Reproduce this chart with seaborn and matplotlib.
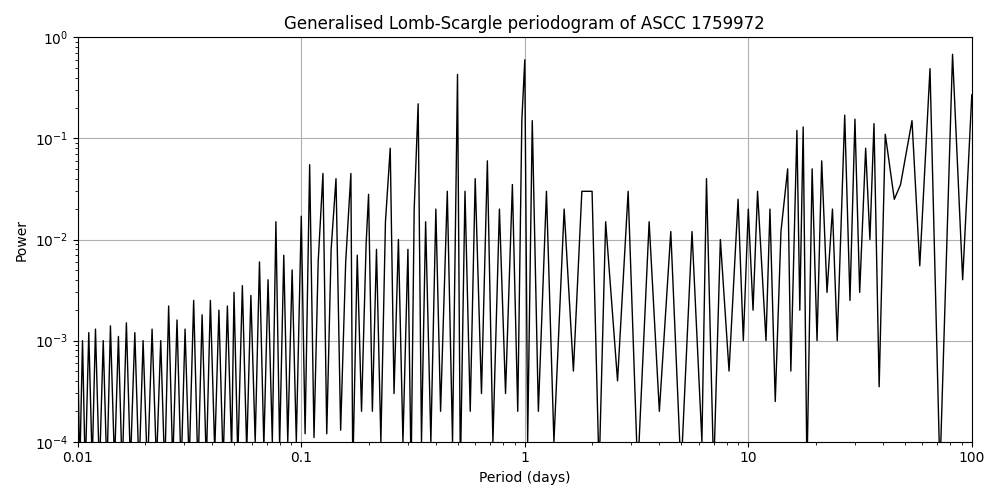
import matplotlib
matplotlib.use("Agg")
import matplotlib.pyplot as plt
import seaborn as sns
import pandas as pd

period = [0.0100,0.0102,0.0105,0.0108,0.0112,0.0116,0.0120,0.0125,0.0130,0.0135,0.0140,0.0146,0.0152,0.0158,0.0165,0.0172,0.0180,0.0188,0.0196,0.0205,0.0215,0.0225,0.0235,0.0245,0.0255,0.0266,0.0278,0.0290,0.0302,0.0315,0.0330,0.0345,0.0360,0.0376,0.0392,0.0410,0.0428,0.0447,0.0467,0.0488,0.0500,0.0520,0.0545,0.0570,0.0595,0.0622,0.0650,0.0680,0.0710,0.0742,0.0770,0.0800,0.0835,0.0870,0.0910,0.0950,0.1000,0.1040,0.1090,0.1140,0.1190,0.1250,0.1300,0.1360,0.1430,0.1500,0.1580,0.1667,0.1700,0.1780,0.1860,0.1950,0.2000,0.2080,0.2170,0.2270,0.2380,0.2500,0.2600,0.2720,0.2850,0.3000,0.3100,0.3200,0.3333,0.3450,0.3600,0.3800,0.4000,0.4200,0.4500,0.4750,0.5000,0.5150,0.5400,0.5700,0.6000,0.6400,0.6800,0.7200,0.7700,0.8200,0.8800,0.9300,0.9700,1.0000,1.0300,1.0800,1.1500,1.2500,1.3500,1.5000,1.6500,1.8000,2.0000,2.1500,2.3000,2.6000,2.9000,3.2000,3.6000,4.0000,4.5000,5.0000,5.6000,6.2000,6.5000,7.0000,7.5000,8.2000,9.0000,9.5000,10.0,10.5,11.0,12.0,12.5,13.2,14.0,15.0,15.5,16.5,17.0,17.6,18.3,19.3,20.3,21.3,22.5,23.8,25.0,27.0,28.5,30.0,31.5,33.5,35.0,36.5,38.5,41.0,45.0,48.0,54.0,58.5,65.0,72.0,82.0,91.0,100.0]
power = [8e-4,5e-5,1e-3,5e-5,1.2e-3,6e-5,1.3e-3,5e-5,1e-3,5e-5,1.4e-3,6e-5,1.1e-3,5e-5,1.5e-3,6e-5,1.2e-3,5e-5,1e-3,5e-5,1.3e-3,6e-5,1e-3,5e-5,2.2e-3,6e-5,1.6e-3,5e-5,1.3e-3,6e-5,2.5e-3,5e-5,1.8e-3,6e-5,2.5e-3,8e-5,2e-3,6e-5,2.2e-3,8e-5,3e-3,7e-5,3.5e-3,8e-5,2.8e-3,1e-4,6e-3,9e-5,4e-3,1e-4,1.5e-2,9e-5,7e-3,1e-4,5e-3,1e-4,1.7e-2,1.2e-4,5.5e-2,1.1e-4,6e-3,4.5e-2,1.2e-4,8e-3,4e-2,1.3e-4,6e-3,4.5e-2,5e-5,7e-3,2e-4,9e-3,2.8e-2,2e-4,8e-3,1e-4,1.5e-2,8e-2,3e-4,1e-2,1e-4,8e-3,5e-5,2e-2,2.2e-1,1e-4,1.5e-2,1e-4,2e-2,2e-4,3e-2,1e-4,4.3e-1,5e-5,3e-2,2e-4,4e-2,3e-4,6e-2,1e-4,2e-2,3e-4,3.5e-2,2e-4,1.5e-1,6e-1,1e-4,1.5e-1,2e-4,3e-2,1e-4,2e-2,5e-4,3e-2,3e-2,5e-5,1.5e-2,4e-4,3e-2,5e-5,1.5e-2,2e-4,1.2e-2,5e-5,1.2e-2,1e-4,4e-2,5e-5,1e-2,5e-4,2.5e-2,1e-3,2e-2,2e-3,3e-2,1e-3,2e-2,2.5e-4,1.2e-2,5e-2,5e-4,1.2e-1,2e-3,1.3e-1,5e-5,5e-2,1e-3,6e-2,3e-3,2e-2,1e-3,1.7e-1,2.5e-3,1.55e-1,3e-3,8e-2,1e-2,1.4e-1,3.5e-4,1.1e-1,2.5e-2,3.5e-2,1.5e-1,5.5e-3,4.9e-1,5e-5,6.8e-1,4e-3,2.7e-1]

df = pd.DataFrame({"period": period, "power": power})
fig, ax = plt.subplots(figsize=(10, 5), dpi=100)
sns.lineplot(data=df, x="period", y="power", sort=False, color="black", linewidth=1, ax=ax)
ax.set_xscale("log"); ax.set_yscale("log")
ax.set_xlim(0.01, 100); ax.set_ylim(1e-4, 1)
ax.set_xticks([0.01, 0.1, 1, 10, 100])
ax.set_xticklabels(["0.01", "0.1", "1", "10", "100"])
ax.grid(True, which="major")
ax.set_xlabel("Period (days)"); ax.set_ylabel("Power")
ax.set_title("Generalised Lomb-Scargle periodogram of ASCC 1759972")
fig.tight_layout()
fig.savefig("out.png")
